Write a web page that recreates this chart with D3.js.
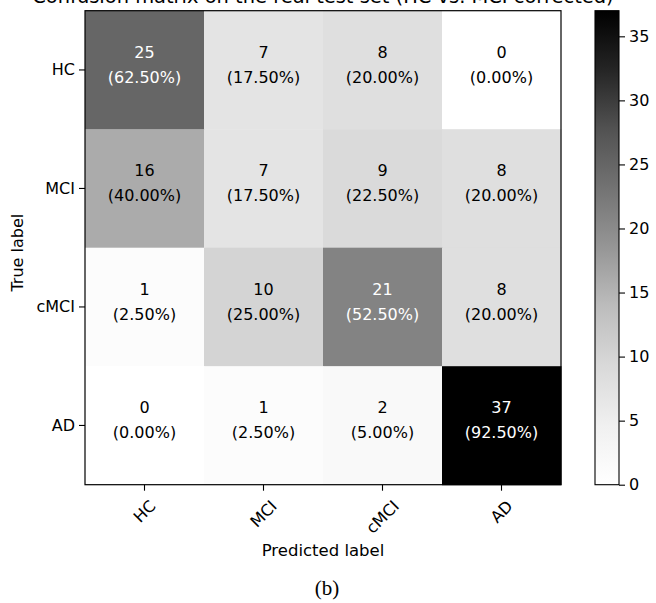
<!DOCTYPE html>
<html>
<head>
<meta charset="utf-8">
<script src="https://cdn.jsdelivr.net/npm/d3@7"></script>
<style>
  html, body { margin: 0; padding: 0; background: #fff; }
  svg { display: block; font-family: "DejaVu Sans", sans-serif; }
</style>
</head>
<body>
<svg id="chart" width="656" height="603"></svg>
<script>
// Class labels (rows = true, columns = predicted)
const classes = ["HC", "MCI", "cMCI", "AD"];
// Counts per true class
const rowHC   = [25, 7, 8, 0];
const rowMCI  = [16, 7, 9, 8];
const rowCMCI = [1, 10, 21, 8];
const rowAD   = [0, 1, 2, 37];
const matrix = [rowHC, rowMCI, rowCMCI, rowAD];
const colorbarTicks = [0, 5, 10, 15, 20, 25, 30, 35];
const titleText = "Confusion matrix on the real test set (HC vs. MCI corrected)";

// Greys colour ramp (ColorBrewer, linear between stops)
const greys = ["#ffffff", "#f0f0f0", "#d9d9d9", "#bdbdbd", "#969696",
               "#737373", "#525252", "#252525", "#000000"];

const svg = d3.select("#chart");
const plot = { left: 85, top: 10.7, right: 561, bottom: 484.7 };
const cbar = { left: 595, right: 619, top: 10.7, bottom: 484.7 };

const vmax = d3.max(matrix.flat());
const color = d3.scaleLinear()
  .domain(greys.map((_, i) => i / (greys.length - 1) * vmax))
  .range(greys)
  .interpolate(d3.interpolateRgb);

const x = d3.scaleBand().domain(classes).range([plot.left, plot.right]);
const y = d3.scaleBand().domain(classes).range([plot.top, plot.bottom]);

const cells = [];
matrix.forEach((row, i) => {
  const total = d3.sum(row);
  row.forEach((v, j) => cells.push({ t: classes[i], p: classes[j], v, pct: v / total * 100 }));
});

// Heatmap cells
svg.append("g").selectAll("rect").data(cells).join("rect")
  .attr("x", d => x(d.p))
  .attr("y", d => y(d.t))
  .attr("width", x.bandwidth() + 0.5)
  .attr("height", y.bandwidth() + 0.5)
  .attr("fill", d => color(d.v));

// Cell annotations: count and row percentage
const thresh = vmax / 2;
const ann = svg.append("g").selectAll("text").data(cells).join("text")
  .attr("text-anchor", "middle")
  .attr("font-size", 16)
  .attr("fill", d => d.v > thresh ? "#ffffff" : "#000000");
ann.append("tspan")
  .attr("x", d => x(d.p) + x.bandwidth() / 2)
  .attr("y", d => y(d.t) + y.bandwidth() / 2 - 12)
  .text(d => d.v);
ann.append("tspan")
  .attr("x", d => x(d.p) + x.bandwidth() / 2)
  .attr("y", d => y(d.t) + y.bandwidth() / 2 + 13)
  .text(d => "(" + d.pct.toFixed(2) + "%)");

// Axes frame
svg.append("rect")
  .attr("x", plot.left).attr("y", plot.top)
  .attr("width", plot.right - plot.left).attr("height", plot.bottom - plot.top)
  .attr("fill", "none").attr("stroke", "#000").attr("stroke-width", 1.2);

// Y axis
const yAxis = svg.append("g")
  .attr("transform", `translate(${plot.left},0)`)
  .call(d3.axisLeft(y).tickSize(6).tickPadding(4));
yAxis.select(".domain").remove();
yAxis.selectAll("text").attr("font-size", 16).attr("font-family", "DejaVu Sans").attr("fill", "#000");
yAxis.selectAll("line").attr("stroke", "#000").attr("stroke-width", 1.1);

// X axis with 45° labels centred under each tick
const xAxis = svg.append("g")
  .attr("transform", `translate(0,${plot.bottom})`)
  .call(d3.axisBottom(x).tickSize(6).tickFormat(""));
xAxis.select(".domain").remove();
xAxis.selectAll("line").attr("stroke", "#000").attr("stroke-width", 1.1);
const xl = svg.append("g").selectAll("text").data(classes).join("text")
  .attr("font-size", 16)
  .attr("text-anchor", "middle")
  .attr("dominant-baseline", "central")
  .text(d => d);
xl.each(function (d) {
  const w = this.getComputedTextLength();
  const h = 13;
  const cx = x(d) + x.bandwidth() / 2;
  const cy = plot.bottom + 14 + (w + h) / (2 * Math.SQRT2);
  d3.select(this).attr("x", cx).attr("y", cy)
    .attr("transform", `rotate(-45,${cx},${cy})`);
});

// Axis titles
svg.append("text")
  .attr("x", (plot.left + plot.right) / 2).attr("y", 556)
  .attr("text-anchor", "middle").attr("font-size", 16.5)
  .text("Predicted label");
svg.append("text")
  .attr("transform", `translate(23,${(plot.top + plot.bottom) / 2 + 5}) rotate(-90)`)
  .attr("text-anchor", "middle").attr("font-size", 16)
  .text("True label");

// Title, sized to span the axes width (its top runs past the page edge)
const title = svg.append("text")
  .attr("x", (plot.left + plot.right) / 2).attr("y", 3)
  .attr("text-anchor", "middle").attr("font-size", 16)
  .text(titleText);
const tw = title.node().getComputedTextLength();
title.attr("font-size", 16 * 582 / tw);

// Colorbar
const defs = svg.append("defs");
const grad = defs.append("linearGradient").attr("id", "cbgrad")
  .attr("x1", 0).attr("y1", 1).attr("x2", 0).attr("y2", 0);
grad.selectAll("stop").data(greys).join("stop")
  .attr("offset", (_, i) => i / (greys.length - 1))
  .attr("stop-color", d => d);
svg.append("rect")
  .attr("x", cbar.left).attr("y", cbar.top)
  .attr("width", cbar.right - cbar.left).attr("height", cbar.bottom - cbar.top)
  .attr("fill", "url(#cbgrad)")
  .attr("stroke", "#000").attr("stroke-width", 1.1);
const cy = d3.scaleLinear().domain([0, vmax]).range([cbar.bottom, cbar.top]);
const cAxis = svg.append("g")
  .attr("transform", `translate(${cbar.right},0)`)
  .call(d3.axisRight(cy).tickValues(colorbarTicks).tickSize(6).tickPadding(4));
cAxis.select(".domain").remove();
cAxis.selectAll("text").attr("font-size", 16).attr("font-family", "DejaVu Sans").attr("fill", "#000");
cAxis.selectAll("line").attr("stroke", "#000").attr("stroke-width", 1.1);

// Subfigure caption
svg.append("text")
  .attr("x", (plot.left + plot.right) / 2 + 4).attr("y", 595)
  .attr("text-anchor", "middle")
  .attr("font-family", "Liberation Serif, serif").attr("font-size", 21)
  .text("(b)");
</script>
</body>
</html>
